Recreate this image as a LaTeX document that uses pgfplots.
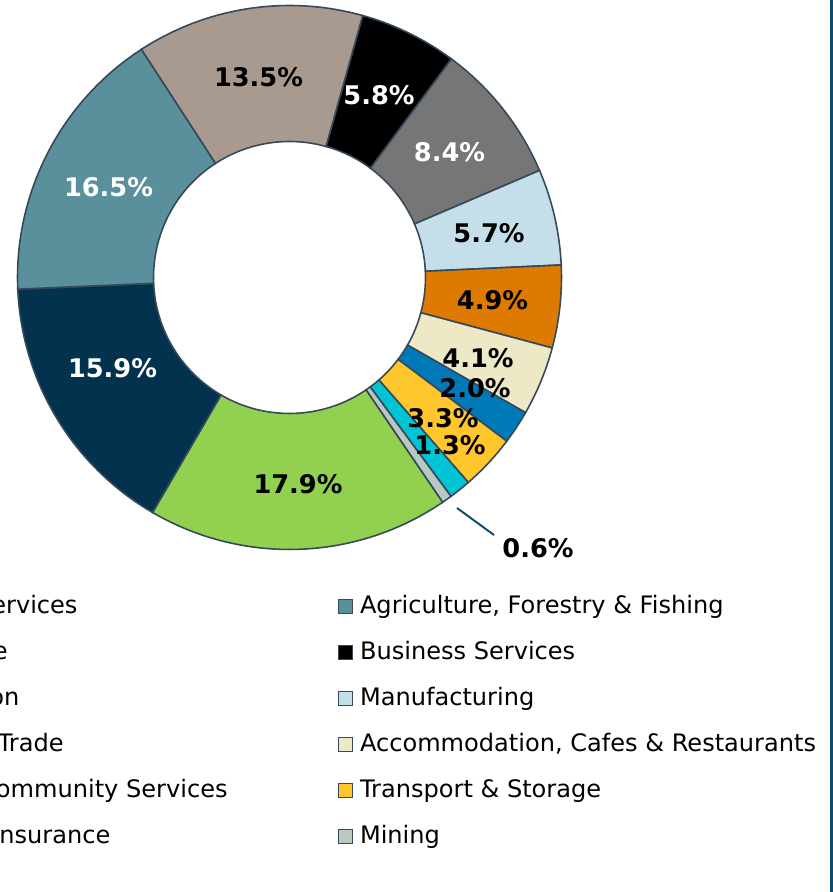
\documentclass[border=0pt]{standalone}
\usepackage{pgfplots}
\usepackage{pgfplotstable}
\pgfplotsset{compat=1.18}
\usepackage{fontspec}
\setmainfont{DejaVu Sans}

\definecolor{cTan}{HTML}{A89A8E}
\definecolor{cBlk}{HTML}{000000}
\definecolor{cGry}{HTML}{767676}
\definecolor{cLbl}{HTML}{C5DFEA}
\definecolor{cOrg}{HTML}{DF7A00}
\definecolor{cBei}{HTML}{EDE8C6}
\definecolor{cBlu}{HTML}{0079B8}
\definecolor{cYel}{HTML}{FFC72C}
\definecolor{cCya}{HTML}{00C3D3}
\definecolor{cLgr}{HTML}{B8C8C2}
\definecolor{cGrn}{HTML}{92D050}
\definecolor{cNav}{HTML}{03324F}
\definecolor{cTea}{HTML}{5A8F9C}
\definecolor{edge}{HTML}{36495A}
\definecolor{frame}{HTML}{0E4A6E}

% share (%), slice colour, label centre (px from ring centre), label colour
% slices listed clockwise, starting at the tan one
\pgfplotstableread{
val  col  lx     ly     tc
13.5 cTan -31    200    black
5.8  cBlk 89.5   182.5  white
8.4  cGry 160    125    white
5.7  cLbl 199.5  44.5   black
4.9  cOrg 203    -23    black
4.1  cBei 188.5  -80.5  black
2.0  cBlu 185.5  -110.5 black
3.3  cYel 153.5  -140.5 black
1.3  cCya 160.5  -167.5 black
0.6  cLgr 248.5  -270.5 black
17.9 cGrn 8.5    -206.5 black
15.9 cNav -177   -91    white
16.5 cTea -181   90     white
}\slices

\def\ringstart{123}
\def\total{0}
\pgfplotsforeachungrouped \i in {0,1,...,12}{%
  \pgfplotstablegetelem{\i}{val}\of\slices
  \pgfmathsetmacro\total{\total+\pgfplotsretval}%
}
\def\cum{0}
\pgfplotsforeachungrouped \i in {0,1,...,12}{%
  \pgfplotstablegetelem{\i}{val}\of\slices
  \let\sv\pgfplotsretval
  \expandafter\let\csname lab\i\endcsname\sv
  \pgfmathsetmacro\angA{\ringstart-\cum/\total*360}%
  \pgfmathsetmacro\angB{\angA-\sv/\total*360}%
  \expandafter\let\csname as\i\endcsname\angA
  \expandafter\let\csname ae\i\endcsname\angB
  \pgfmathsetmacro\cum{\cum+\sv}%
  \pgfplotstablegetelem{\i}{col}\of\slices
  \colorlet{slice\i}{\pgfplotsretval}%
  \pgfplotstablegetelem{\i}{tc}\of\slices
  \colorlet{labc\i}{\pgfplotsretval}%
  \pgfplotstablegetelem{\i}{lx}\of\slices
  \expandafter\let\csname lx\i\endcsname\pgfplotsretval
  \pgfplotstablegetelem{\i}{ly}\of\slices
  \expandafter\let\csname ly\i\endcsname\pgfplotsretval
}

\newcommand\legtxt[1]{\makebox[9.1cm][l]{#1}}

\begin{document}
\begin{tikzpicture}
\begin{axis}[
  x=0.02cm, y=0.02cm,
  xmin=-289.5, xmax=542.5, ymin=-614.5, ymax=277.5,
  hide axis, clip=false,
  legend columns=2,
  legend cell align=left,
  legend style={
    at={(-0.1875,0.3375)}, anchor=north west,
    draw=none, fill=none, inner sep=0pt, outer sep=0pt, row sep=0pt,
    nodes={inner sep=0pt, text height=0.46cm, text depth=0.46cm,
      font=\fontsize{13.7pt}{16pt}\selectfont},
    /tikz/every odd column/.append style={column sep=0.14cm},
    /tikz/every even column/.append style={column sep=0.34cm},
  },
  legend image code/.code={%
    \draw[#1, draw=edge, line width=0.6pt] (0cm,0cm) rectangle (0.28cm,0.28cm);},
]
\pgfplotsinvokeforeach{0,1,...,12}{
  \fill[slice#1, draw=edge, line width=0.9pt]
    (axis cs:{272*cos(\csname as#1\endcsname)},{272*sin(\csname as#1\endcsname)})
    arc[start angle=\csname as#1\endcsname, end angle=\csname ae#1\endcsname, radius=5.44cm]
    -- (axis cs:{136*cos(\csname ae#1\endcsname)},{136*sin(\csname ae#1\endcsname)})
    arc[start angle=\csname ae#1\endcsname, end angle=\csname as#1\endcsname, radius=2.72cm]
    -- cycle;
}
\pgfplotsinvokeforeach{0,1,...,12}{
  \node[text=labc#1, font=\bfseries\fontsize{14.6pt}{17pt}\selectfont]
    at (axis cs:\csname lx#1\endcsname,\csname ly#1\endcsname) {\csname lab#1\endcsname\%};
}
% leader line of the 0.6% label
\draw[frame, line width=1.1pt] (axis cs:167.5,-230.5) -- (axis cs:204.5,-257.5);
% right edge of the chart frame
\draw[frame, line width=1.7pt] (axis cs:541.5,-614.5) -- (axis cs:541.5,277.5);

\addlegendimage{fill=cNav}\addlegendentry{\legtxt{Personal Services}}
\addlegendimage{fill=cTea}\addlegendentry{\legtxt{Agriculture, Forestry \& Fishing}}
\addlegendimage{fill=cTan}\addlegendentry{\legtxt{Retail Trade}}
\addlegendimage{fill=cBlk}\addlegendentry{\legtxt{Business Services}}
\addlegendimage{fill=cGry}\addlegendentry{\legtxt{Construction}}
\addlegendimage{fill=cLbl}\addlegendentry{\legtxt{Manufacturing}}
\addlegendimage{fill=cOrg}\addlegendentry{\legtxt{Wholesale Trade}}
\addlegendimage{fill=cBei}\addlegendentry{\legtxt{Accommodation, Cafes \& Restaurants}}
\addlegendimage{fill=cBlu}\addlegendentry{\legtxt{Health \& Community Services}}
\addlegendimage{fill=cYel}\addlegendentry{\legtxt{Transport \& Storage}}
\addlegendimage{fill=cCya}\addlegendentry{\legtxt{Finance \& Insurance}}
\addlegendimage{fill=cLgr}\addlegendentry{\legtxt{Mining}}
\end{axis}
\pgfresetboundingbox
\path[use as bounding box] (current axis.south west) rectangle (current axis.north east);
\end{tikzpicture}
\end{document}
